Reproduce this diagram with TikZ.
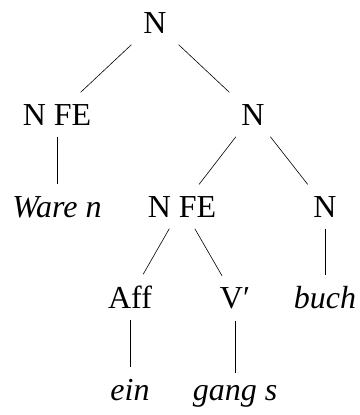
\documentclass[tikz,border=0pt]{standalone}
\usepackage{fontspec}
\setmainfont{Liberation Serif}
\tikzset{
  tn/.style={anchor=base, inner xsep=14pt, inner ysep=11.5pt, font=\fontsize{32}{38}\selectfont},
  lf/.style={tn, font=\fontsize{32}{38}\selectfont\itshape},
  br/.style={line width=0.6pt, black}
}
\begin{document}
\begin{tikzpicture}[x=1pt,y=-1pt]
\useasboundingbox (0,0) rectangle (359,415);
% row 1
\node[tn] (root) at (155,33) {N};
% row 2
\node[tn] (nfe1) at (57,125) {N FE};
\node[tn] (n2) at (253,125) {N};
% row 3
\node[lf] (ware) at (57,217) {Ware n};
\node[tn] (nfe2) at (182,217) {N FE};
\node[tn] (n3) at (325,217) {N};
% row 4
\node[tn] (aff) at (130,308.5) {Aff};
\node[tn] (v) at (235,308.5) {V′};
\node[lf] (buch) at (325,308.5) {buch};
% row 5
\node[lf] (ein) at (130,400) {ein};
\node[lf] (gang) at (235,400) {gang s};
% branches
\draw[br] (root) -- (nfe1);
\draw[br] (root) -- (n2);
\draw[br] (nfe1) -- (ware);
\draw[br] (n2) -- (nfe2);
\draw[br] (n2) -- (n3);
\draw[br] (nfe2) -- (aff);
\draw[br] (nfe2) -- (v);
\draw[br] (n3) -- (buch);
\draw[br] (aff) -- (ein);
\draw[br] (v) -- (gang);
\end{tikzpicture}
\end{document}
